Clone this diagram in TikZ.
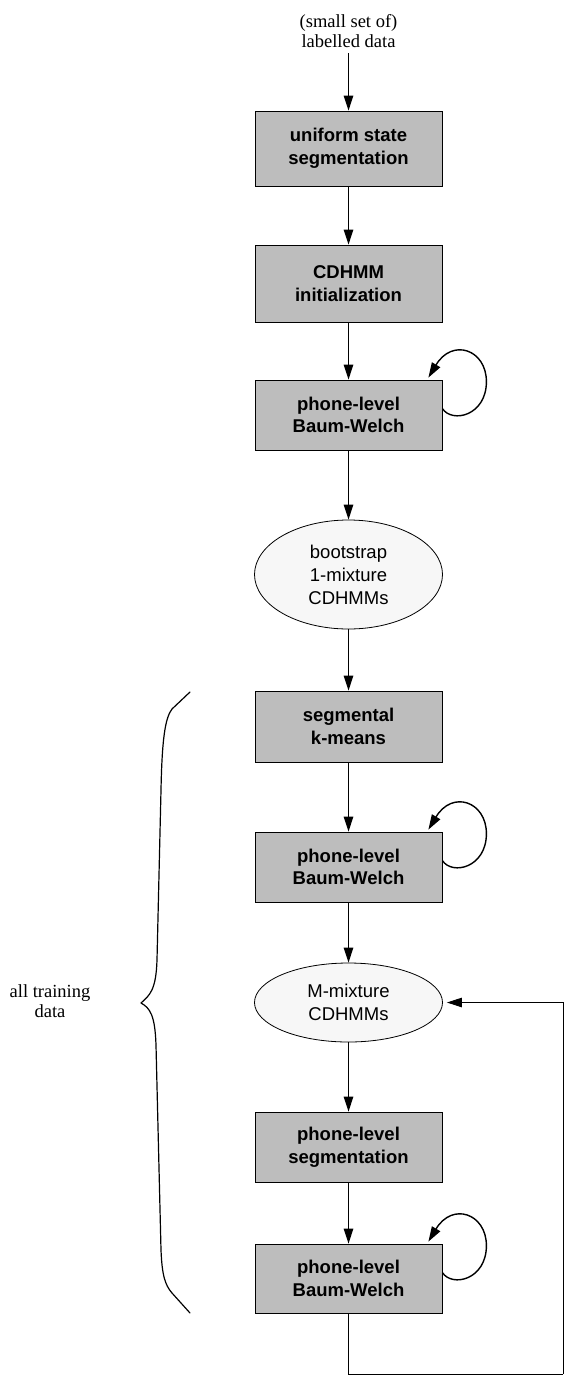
\documentclass[tikz,border=0pt]{standalone}
\usepackage{fontspec}
\setmainfont{Liberation Serif}
\newfontfamily\arialfont{Liberation Sans}
\usetikzlibrary{arrows.meta,shapes.geometric}
\begin{document}
\begin{tikzpicture}[x=1pt,y=-1pt,
  box/.style={draw=black, line width=0.8pt, fill=black!26, minimum width=187pt,
    minimum height=71pt, inner sep=0pt, align=center,
    font=\arialfont\bfseries\fontsize{18.5}{22.5}\selectfont},
  oval/.style={ellipse, draw=black, line width=0.8pt, fill=black!3,
    minimum width=188pt, inner sep=0pt, align=center,
    font=\arialfont\fontsize{18.5}{23}\selectfont},
  lbl/.style={align=center, inner sep=0pt, font=\fontsize{18.5}{20.5}\selectfont},
  tip/.style={-{Triangle[length=15pt,width=9.5pt]}},
  arr/.style={line width=1.4pt, tip},
  fbline/.style={line width=0.9pt},
  brace/.style={line width=1.2pt, line join=round, line cap=round}
]
\useasboundingbox (0,0) rectangle (566,1376);

\node[lbl] (src) at (348.5,31) {(small set of)\\labelled data};
\node[box, minimum height=75pt] (b1) at (348.5,148.5) {uniform state\\segmentation};
\node[box, minimum height=77pt] (b2) at (348.5,283.5) {CDHMM\\initialization};
\node[box, minimum height=70pt] (b3) at (348.5,415) {phone-level\\Baum-Welch};
\node[oval, minimum height=109pt] (e1) at (348.5,574.5) {bootstrap\\1-mixture\\CDHMMs};
\node[box] (b4) at (348.5,726.5) {segmental\\k-means};
\node[box, minimum height=70pt] (b5) at (348.5,867) {phone-level\\Baum-Welch};
\node[oval, minimum height=79pt] (e2) at (348.5,1002.5) {M-mixture\\CDHMMs};
\node[box, minimum height=70pt] (b6) at (348.5,1147) {phone-level\\segmentation};
\node[box, minimum height=69pt] (b7) at (348.5,1278.5) {phone-level\\Baum-Welch};
\node[lbl] (atd) at (50,1001) {all training\\data};

\draw[arr, shorten <=5pt] (src) -- (b1);
\draw[arr] (b1) -- (b2);
\draw[arr] (b2) -- (b3);
\draw[arr] (b3) -- (e1);
\draw[arr] (e1) -- (b4);
\draw[arr] (b4) -- (b5);
\draw[arr] (b5) -- (e2);
\draw[arr] (e2) -- (b6);
\draw[arr] (b6) -- (b7);

% self loops
\foreach \b in {b3,b5,b7}{
  \draw[arr] ([shift={(0,29)}]\b.north east)
    .. controls ([shift={(10,44)}]\b.north east) and ([shift={(44,36)}]\b.north east)
    .. ([shift={(44,2)}]\b.north east)
    .. controls ([shift={(44,-30)}]\b.north east) and ([shift={(10,-42)}]\b.north east)
    .. ([shift={(-14,-2)}]\b.north east);
}

% feedback
\coordinate (fb) at (563,1374);
\draw[fbline] (b7.south) |- (fb);
\draw[fbline, tip, shorten >=4pt] (fb) |- (e2.east);

% brace
\draw[brace] (190,692) -- (172,709)
  .. controls (165,718) and (162,740) .. (161,790)
  -- (157,960)
  .. controls (156,990) and (150,995) .. (141,1003)
  .. controls (150,1008) and (155,1015) .. (156,1045)
  -- (161,1250)
  .. controls (162,1275) and (165,1285) .. (172,1293)
  -- (190,1313);
\end{tikzpicture}
\end{document}
